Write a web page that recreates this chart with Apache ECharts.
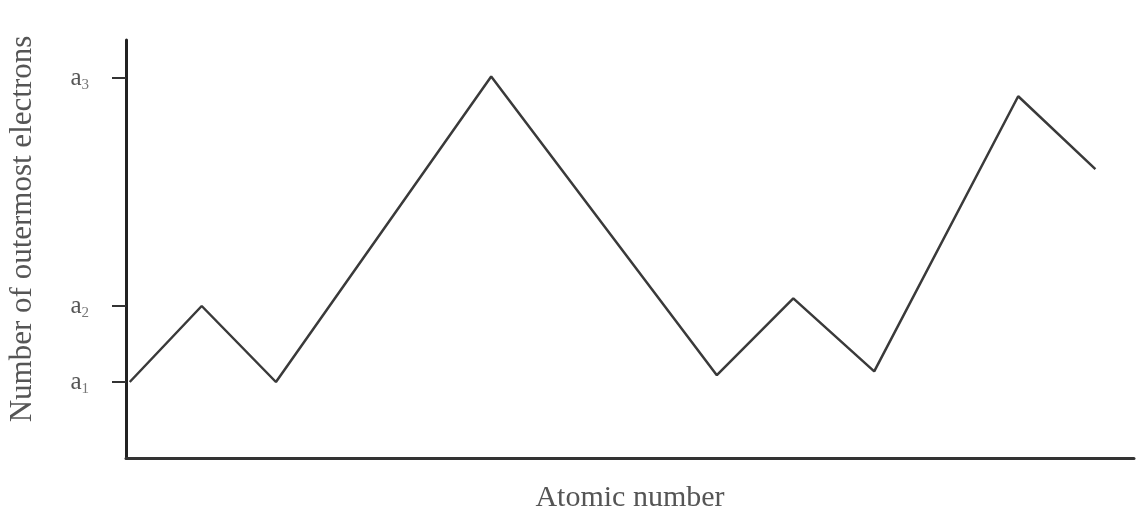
<!DOCTYPE html>
<html>
<head>
<meta charset="utf-8">
<script src="https://cdn.jsdelivr.net/npm/echarts@6/dist/echarts.min.js"></script>
<style>
  html, body { margin: 0; padding: 0; background: #fff; }
  #chart { width: 1136px; height: 512px; }
</style>
</head>
<body>
<div id="chart"></div>
<script>
// positions along the atomic-number axis
const atomicPos = [0.05, 1.02, 2.02, 4.92, 7.96, 8.99, 10.08, 12.02, 13.06];
// number of outermost electrons (a1 = 1, a2 = 2, a3 = 5 on the same scale)
const electrons = [1, 2, 1, 5.02, 1.09, 2.1, 1.14, 4.76, 3.8];
const tickValues = [1, 2, 5];
const tickNames = { 1: '1', 2: '2', 5: '3' };

const chart = echarts.init(document.getElementById('chart'));

const option = {
    backgroundColor: '#fff',
    animation: false,
    grid: { left: 126, right: 2, top: 40, bottom: 54, outerBoundsMode: 'none', containLabel: false },
    xAxis: {
        type: 'value',
        min: 0,
        max: 13.58,
        name: 'Atomic number',
        nameLocation: 'middle',
        nameGap: 25,
        nameTextStyle: { fontFamily: 'Liberation Serif', fontSize: 30, color: '#555' },
        axisLine: { show: true, lineStyle: { color: '#333', width: 3 } },
        axisTick: { show: false },
        axisLabel: { show: false },
        splitLine: { show: false }
    },
    yAxis: {
        type: 'value',
        min: 0,
        max: 5.5,
        name: 'Number of outermost electrons',
        nameLocation: 'middle',
        nameGap: 88,
        nameTextStyle: {
            fontFamily: 'Liberation Serif', fontSize: 31, color: '#555',
            padding: [0, 0, 0, 40]
        },
        axisLine: { show: true, lineStyle: { color: '#222', width: 3 } },
        axisTick: {
            show: true,
            customValues: tickValues,
            length: 14,
            lineStyle: { color: '#333', width: 2 }
        },
        axisLabel: {
            customValues: tickValues,
            margin: 37,
            formatter: function (v) { return 'a{sub|' + tickNames[v] + '}'; },
            fontFamily: 'Liberation Serif',
            fontSize: 25,
            color: '#555',
            rich: {
                sub: { fontFamily: 'Liberation Serif', fontSize: 15, color: '#777', padding: [14, 0, 0, 0] }
            }
        },
        splitLine: { show: false }
    },
    series: [{
        type: 'line',
        data: atomicPos.map((x, i) => [x, electrons[i]]),
        symbol: 'none',
        lineStyle: { color: '#3a3a3a', width: 2.5 }
    }]
};

chart.setOption(option);
</script>
</body>
</html>
